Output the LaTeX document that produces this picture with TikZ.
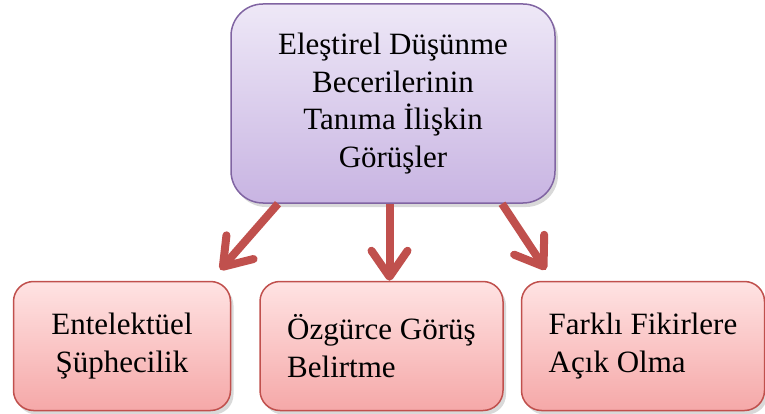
\documentclass[tikz,border=0pt]{standalone}
\usepackage{fontspec}
\setmainfont{Liberation Serif}
\usetikzlibrary{positioning,arrows.meta,shadows}

\definecolor{critdraw}{HTML}{8064A2}
\definecolor{crittop}{HTML}{EEE8F7}
\definecolor{critbot}{HTML}{C8B4E2}
\definecolor{subdraw}{HTML}{C0504D}
\definecolor{subtop}{HTML}{FFE3E3}
\definecolor{subbot}{HTML}{F5A8A8}

\begin{document}
\begin{tikzpicture}[x=1pt, y=1pt, >={Straight Barb[length=26pt,width=36pt,round]},
    font=\fontsize{31}{37.5}\selectfont,
    topbox/.style={draw=critdraw, line width=1.5pt, rounded corners=32pt,
        top color=crittop, bottom color=critbot, align=center,
        minimum width=324pt, minimum height=199pt,
        drop shadow={opacity=0.3, shadow xshift=3pt, shadow yshift=-4pt}},
    subbox/.style={draw=subdraw, line width=1.5pt, rounded corners=20pt,
        top color=subtop, bottom color=subbot,
        minimum width=243pt, minimum height=129pt,
        drop shadow={opacity=0.3, shadow xshift=3pt, shadow yshift=-4pt}},
    link/.style={->, draw=subdraw, line width=8pt}]
    \useasboundingbox (0,0) rectangle (765,-414);

    \node[topbox] (crit) at (393,-103.5) {Eleştirel Düşünme\\Becerilerinin\\Tanıma İlişkin\\Görüşler};
    \node[subbox, align=left, below=77pt of crit, xshift=-11.5pt] (ozg) {Özgürce Görüş\\Belirtme};
    \node[subbox, align=center, minimum width=217pt, left=28pt of ozg] (ent) {Entelektüel\\Şüphecilik};
    \node[subbox, align=left, right=17pt of ozg] (fark) {Farklı Fikirlere\\Açık Olma};

    \draw[link] ([xshift=-115pt]crit.south) -- ([xshift=-11pt,yshift=11pt]ent.north east);
    \draw[link] ([xshift=-3.5pt]crit.south) -- ([xshift=-3.5pt]crit.south |- ozg.north);
    \draw[link] ([xshift=109pt]crit.south) -- ([xshift=25pt,yshift=11pt]fark.north west);
\end{tikzpicture}
\end{document}
